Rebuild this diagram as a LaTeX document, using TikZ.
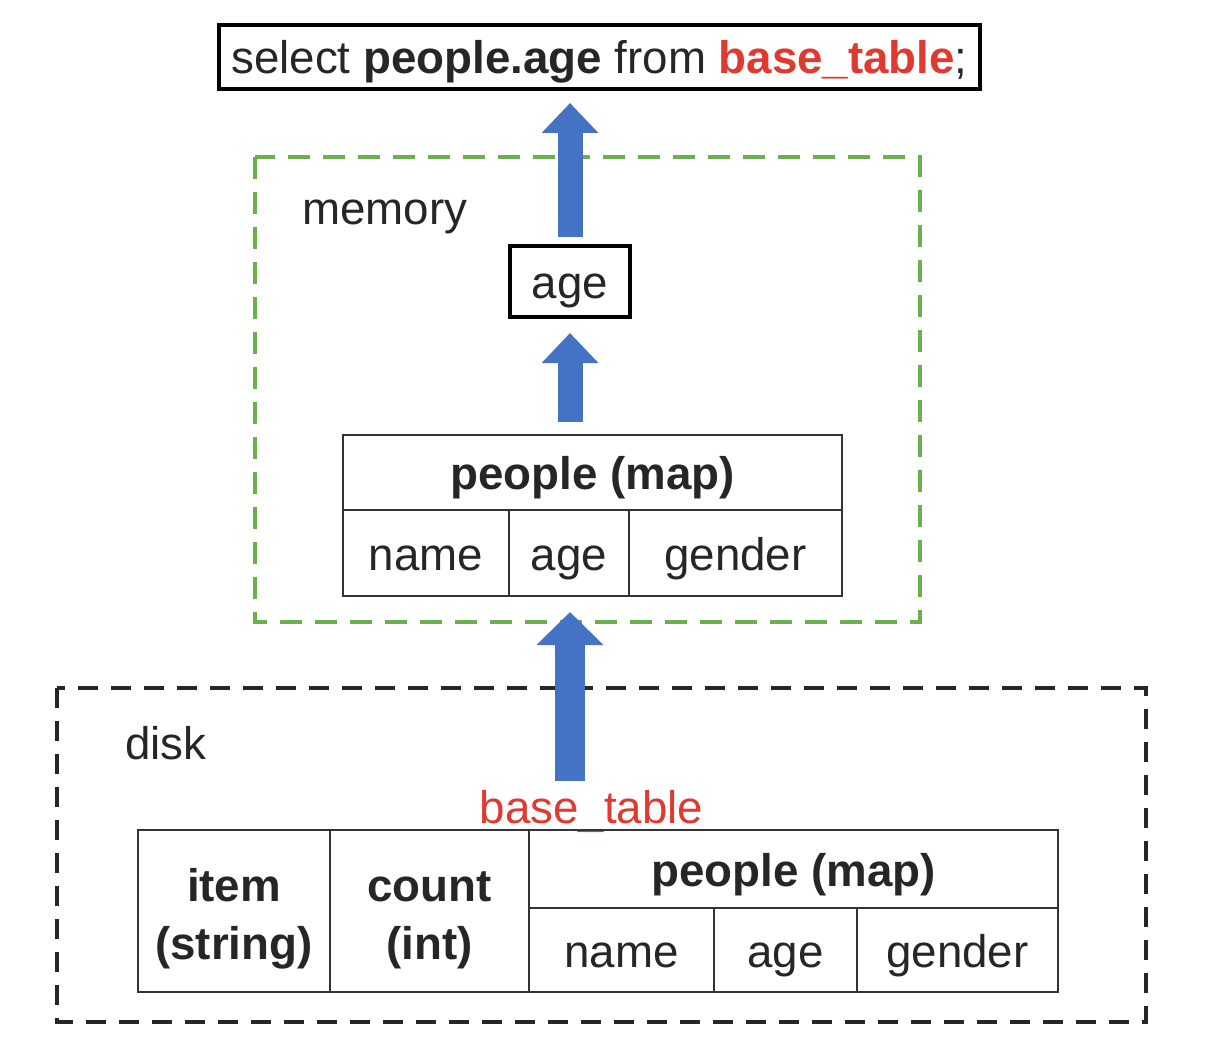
\documentclass[tikz,border=0pt]{standalone}
\usepackage{fontspec}
\setmainfont{Liberation Sans}
\usetikzlibrary{positioning,arrows.meta}

\definecolor{flowblue}{RGB}{68,114,196}
\definecolor{memgreen}{RGB}{106,176,76}
\definecolor{sqlred}{RGB}{222,58,48}
\newcommand{\bigfont}{\fontsize{26}{33}\selectfont}

\tikzset{
	every node/.style={font=\bigfont, text=black!85},
	oneline/.style={text height=0.88cm, text depth=0.2cm},
	twolines/.style={text height=2cm, text depth=0.08cm},
	cell/.style={draw=black!80, line width=1.4pt, inner sep=0pt, outer sep=0pt, anchor=north west, oneline},
	headcell/.style={cell, font=\bigfont\bfseries, align=center},
	boxed/.style={draw=black, line width=2.2pt, inner sep=0pt, outer sep=0pt, oneline},
	memframe/.style={draw=memgreen, line width=2.4pt, dash pattern=on 0.44cm off 0.26cm},
	diskframe/.style={draw=black!85, line width=2.3pt, dash pattern=on 0.4cm off 0.26cm},
	bigarrow/.style={draw=flowblue, line width=0.5cm, -{Triangle[width=1.1cm,length=0.6cm]}}
}

\begin{document}
\begin{tikzpicture}
	\useasboundingbox (0,0) rectangle (24.54,-21.28);
	\node[boxed, minimum width=15.22cm, minimum height=1.28cm] (query) at (11.99,-1.14)
		{select \textbf{people.age} from \textcolor{sqlred}{\textbf{base\_table}};};

	\draw[memframe] (5.10,-3.14) rectangle (18.40,-12.44);
	\node[anchor=west, inner sep=0pt, oneline] (memlabel) at (6.04,-4.14) {memory};
	\node[boxed, minimum width=2.4cm, minimum height=1.42cm] (age) at (11.4,-5.63) {age};
	\node[headcell, minimum width=9.98cm, minimum height=1.5cm] (memhead) at (6.86,-8.70) {people (map)};
	\node[cell, minimum width=3.32cm, minimum height=1.72cm, below=0pt of memhead.south west, anchor=north west] (memname) {name};
	\node[cell, minimum width=2.4cm, minimum height=1.72cm, right=0pt of memname.north east, anchor=north west] (memage) {age};
	\node[cell, minimum width=4.26cm, minimum height=1.72cm, right=0pt of memage.north east, anchor=north west] (memgender) {gender};

	\draw[diskframe] (1.14,-13.76) rectangle (22.92,-20.44);
	\node[anchor=west, inner sep=0pt, oneline] (disklabel) at (2.5,-14.84) {disk};
	\node[text=sqlred, inner sep=0pt, oneline] (basetable) at (11.83,-16.12) {base\_table};
	\node[headcell, twolines, minimum width=3.84cm, minimum height=3.24cm] (item) at (2.76,-16.6) {item\\(string)};
	\node[headcell, twolines, minimum width=3.98cm, minimum height=3.24cm, right=0pt of item.north east, anchor=north west] (count) {count\\(int)};
	\node[headcell, minimum width=10.58cm, minimum height=1.56cm, right=0pt of count.north east, anchor=north west] (diskhead) {people (map)};
	\node[cell, minimum width=3.7cm, minimum height=1.68cm, below=0pt of diskhead.south west, anchor=north west] (diskname) {name};
	\node[cell, minimum width=2.86cm, minimum height=1.68cm, right=0pt of diskname.north east, anchor=north west] (diskage) {age};
	\node[cell, minimum width=4.02cm, minimum height=1.68cm, right=0pt of diskage.north east, anchor=north west] (diskgender) {gender};

	\draw[bigarrow, shorten <=0.18cm, shorten >=0.28cm] (age.north) -- (age |- query.south);
	\draw[bigarrow, shorten <=0.26cm, shorten >=0.32cm] (age |- memhead.north) -- (age.south);
	\draw[bigarrow, line width=0.6cm, -{Triangle[width=1.3cm,length=0.66cm]}, shorten <=0.5cm, shorten >=0.32cm]
		(age |- basetable.center) -- (age |- memname.south);
\end{tikzpicture}
\end{document}
